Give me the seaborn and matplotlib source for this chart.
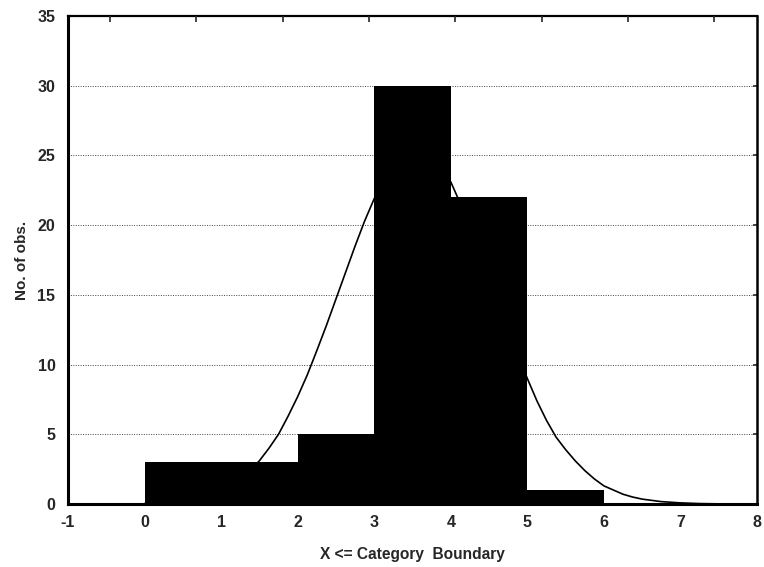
import numpy as np
import pandas as pd
import matplotlib
matplotlib.use("Agg")
import matplotlib.pyplot as plt
import seaborn as sns

# Histogram data (category boundaries and counts)
bin_edges = [0, 1, 2, 3, 4, 5, 6]
counts = [3, 3, 5, 30, 22, 1]

# Fitted curve
curve_x = [0.0, 0.25, 0.5, 0.75, 1.0, 1.25, 1.375, 1.5, 1.625, 1.75, 1.875,
           2.0, 2.125, 2.25, 2.375, 2.5, 2.625, 2.75, 2.875,
           3.0, 3.25, 3.5, 3.75, 4.0, 4.25, 4.5, 4.75, 5.0, 5.125, 5.25,
           5.375, 5.5, 5.625, 5.75, 5.875, 6.0, 6.125, 6.25, 6.375, 6.5,
           6.75, 7.0, 7.25, 7.5]
curve_y = [0.03, 0.08, 0.2, 0.5, 1.0, 1.8, 2.4, 3.1, 4.0, 5.0, 6.3,
           7.7, 9.25, 11.0, 12.8, 14.7, 16.6, 18.5, 20.3,
           21.9, 24.4, 25.5, 25.0, 23.1, 20.0, 16.3, 12.4, 9.0, 7.4, 6.0,
           4.8, 3.9, 3.1, 2.4, 1.8, 1.3, 1.0, 0.7, 0.5, 0.35,
           0.17, 0.08, 0.03, 0.01]

x_ticks = [-1, 0, 1, 2, 3, 4, 5, 6, 7, 8]
y_ticks = [0, 5, 10, 15, 20, 25, 30, 35]

sns.set_style("white")
plt.rcParams['font.family'] = ['Liberation Sans', 'DejaVu Sans']

fig = plt.figure(figsize=(7.64, 5.67), dpi=100)
ax = fig.add_axes([68/764, 1-504/567, (757-68)/764, (504-16)/567])

mids = [(bin_edges[i] + bin_edges[i+1]) / 2 for i in range(len(counts))]
df = pd.DataFrame({"x": mids, "w": counts})
sns.histplot(data=df, x="x", weights="w", bins=bin_edges, color="black",
             alpha=1, edgecolor="black", linewidth=0, ax=ax, zorder=2)

sns.lineplot(x=curve_x, y=curve_y, color="black", linewidth=1.2, ax=ax,
             zorder=3)

ax.set_xlim(-1, 8)
ax.set_ylim(0, 35)
ax.set_xticks(x_ticks)
ax.set_yticks(y_ticks)
ax.set_xticklabels([str(v) for v in x_ticks], fontsize=11.5, fontweight="bold")
ax.set_yticklabels([str(v) for v in y_ticks], fontsize=11.5, fontweight="bold")
ax.tick_params(axis="x", length=0, pad=8)
ax.tick_params(axis="y", length=0, pad=9)
ax.tick_params(axis="y", right=True, direction="in", length=3, width=1.2)
ax.tick_params(axis="y", left=False)

for yv in y_ticks[1:-1]:
    ax.axhline(yv, color="#444444", linestyle=(0, (1, 1.5)), linewidth=0.7,
               zorder=1)

ax.set_xlabel("X <= Category  Boundary", fontsize=11.2, fontweight="bold",
              labelpad=12)
ax.set_ylabel("No. of obs.", fontsize=11, fontweight="bold", labelpad=6)

for s in ax.spines.values():
    s.set_color("black")
    s.set_visible(True)
ax.spines["left"].set_linewidth(2.2)
ax.spines["bottom"].set_linewidth(2.2)
ax.spines["top"].set_linewidth(1.6)
ax.spines["right"].set_linewidth(1.8)

# Top inward ticks on a separate scale
ax2 = ax.twiny()
left = -(110 - 68) / 86.3
ax2.set_xlim(left, left + (757 - 68) / 86.3)
ax2.set_xticks(range(0, 8))
ax2.set_xticklabels([])
ax2.tick_params(axis="x", direction="in", length=4, width=1.2, top=True)
for s in ax2.spines.values():
    s.set_visible(False)

fig.savefig("out.png", dpi=100)
